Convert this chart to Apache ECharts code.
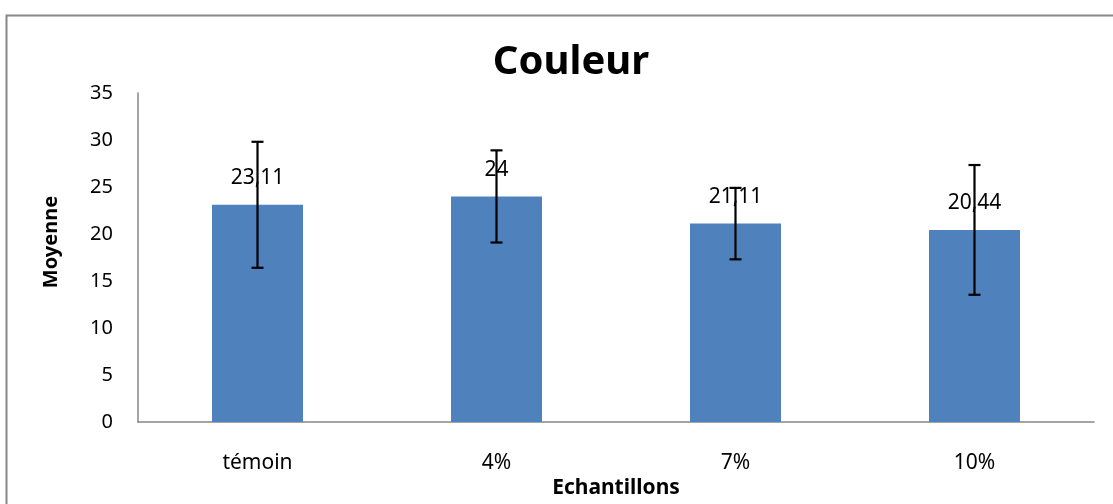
<!DOCTYPE html>
<html><head><meta charset="utf-8">
<script src="https://cdn.jsdelivr.net/npm/echarts@6/dist/echarts.min.js"></script>
<style>html,body{margin:0;padding:0;background:#fff;overflow:hidden}#c{width:1113px;height:504px}</style>
</head><body><div id="c"></div>
<script>
var categories = ['témoin', '4%', '7%', '10%'];
var means = [23.11, 24, 21.11, 20.44];
var meanLabels = ['23,11', '24', '21,11', '20,44'];
var errors = [6.7, 4.9, 3.8, 6.9];
var yTicks = [0, 5, 10, 15, 20, 25, 30, 35];

var FONT = '"Noto Sans", "Open Sans", sans-serif';
var chart = echarts.init(document.getElementById('c'), null, { width: 1113, height: 504 });
var errData = means.map(function (m, i) { return [i, m - errors[i], m + errors[i]]; });
chart.setOption({
  animation: false,
  graphic: [{
    type: 'rect', left: 4, top: 13, shape: { width: 1200, height: 600 },
    style: { fill: 'none', stroke: '#878787', lineWidth: 2 }, silent: true, z: -10
  }, {
    type: 'text', x: 51, y: 242, rotation: Math.PI / 2,
    style: { text: 'Moyenne', fontFamily: FONT, fontWeight: 'bold', fontSize: 20, fill: '#000',
             textAlign: 'center', textVerticalAlign: 'middle' }
  }],
  title: {
    text: 'Couleur', left: 566, top: 38, textAlign: 'center',
    textStyle: { fontFamily: FONT, fontWeight: 'bold', fontSize: 40, color: '#000' }
  },
  grid: { left: 138, right: 19, top: 93, height: 339.5, containLabel: false },
  xAxis: {
    type: 'category', data: categories,
    name: 'Echantillons', nameLocation: 'middle', nameGap: 48,
    nameTextStyle: { fontFamily: FONT, fontWeight: 'bold', fontSize: 21, color: '#000' },
    axisLine: { lineStyle: { color: '#868686', width: 1.5 } },
    axisTick: { show: false },
    axisLabel: { fontFamily: FONT, fontSize: 21, color: '#000', margin: 30 }
  },
  yAxis: {
    type: 'value', min: 0, max: 35, interval: 5,
    axisLine: { show: true, lineStyle: { color: '#868686', width: 1.5 } },
    axisTick: { show: false },
    splitLine: { show: false },
    axisLabel: {
      fontFamily: FONT, fontSize: 20, color: '#000', margin: 25,
      formatter: function (v) { return yTicks.indexOf(v) >= 0 ? String(v) : ''; }
    }
  },
  series: [{
    type: 'bar', data: means, barWidth: 91,
    itemStyle: { color: '#4F81BD' },
    label: {
      show: true, position: 'top', distance: 16,
      fontFamily: FONT, fontSize: 21, color: '#000',
      formatter: function (p) { return meanLabels[p.dataIndex]; }
    }
  }, {
    type: 'custom', data: errData, z: 10,
    renderItem: function (params, api) {
      var x = api.value(0);
      var lo = api.coord([x, api.value(1)]);
      var hi = api.coord([x, api.value(2)]);
      var cap = 6;
      var st = { stroke: '#000', lineWidth: 2.2 };
      return { type: 'group', children: [
        { type: 'line', shape: { x1: lo[0], y1: lo[1], x2: hi[0], y2: hi[1] }, style: st },
        { type: 'line', shape: { x1: lo[0] - cap, y1: lo[1], x2: lo[0] + cap, y2: lo[1] }, style: st },
        { type: 'line', shape: { x1: hi[0] - cap, y1: hi[1], x2: hi[0] + cap, y2: hi[1] }, style: st }
      ]};
    }
  }]
});
</script></body></html>
